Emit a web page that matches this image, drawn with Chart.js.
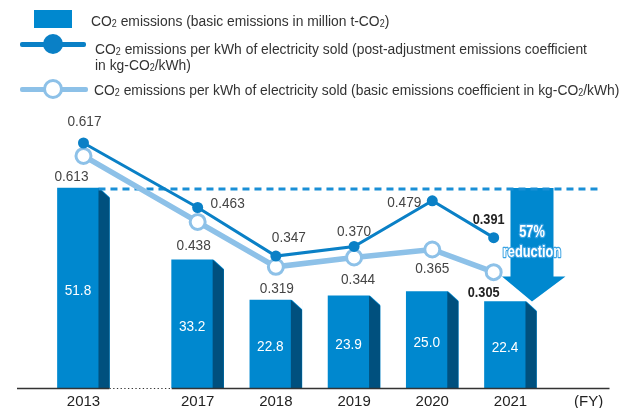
<!DOCTYPE html>
<html>
<head>
<meta charset="utf-8">
<script src="https://cdn.jsdelivr.net/npm/chart.js@4.4.0/dist/chart.umd.min.js"></script>
<style>
  html, body { margin: 0; padding: 0; background: #fff; }
  #wrap { position: relative; width: 620px; height: 408px; overflow: hidden;
          font-family: 'Liberation Sans', Arial, sans-serif; color: #333; }
  #c { position: absolute; left: 0; top: 0; }
  .lg { position: absolute; font-size: 15.5px; line-height: 16.6px; white-space: nowrap;
        transform: scaleX(0.895); transform-origin: 0 0; }
  .lg sub { font-size: 10px; vertical-align: -1px; line-height: 0; }
  .mk { position: absolute; box-sizing: border-box; }
</style>
</head>
<body>
<div id="wrap">
  <canvas id="c" width="620" height="408"></canvas>

  <div class="mk" style="left:34px;top:10px;width:38px;height:17.5px;background:#0088cf"></div>
  <div class="lg" style="left:91px;top:12.5px">CO<sub>2</sub> emissions (basic emissions in million t-CO<sub>2</sub>)</div>

  <div class="mk" style="left:20px;top:42px;width:66px;height:4.5px;border-radius:2px;background:#0a80c6"></div>
  <div class="mk" style="left:43.3px;top:34.3px;width:20px;height:20px;border-radius:50%;background:#0a80c6"></div>
  <div class="lg" style="left:95px;top:40.5px">CO<sub>2</sub> emissions per kWh of electricity sold (post-adjustment emissions coefficient<br>in kg-CO<sub>2</sub>/kWh)</div>

  <div class="mk" style="left:20px;top:87px;width:68px;height:4.5px;border-radius:2px;background:#8dc1e8"></div>
  <div class="mk" style="left:43.3px;top:79.3px;width:20px;height:20px;border-radius:50%;background:#fff;border:3px solid #8dc1e8"></div>
  <div class="lg" style="left:94px;top:82.2px">CO<sub>2</sub> emissions per kWh of electricity sold (basic emissions coefficient in kg-CO<sub>2</sub>/kWh)</div>
</div>

<script>
const years = ['2013', '2017', '2018', '2019', '2020', '2021'];
const axisUnit = '(FY)';
const emissions = [51.8, 33.2, 22.8, 23.9, 25.0, 22.4];        // million t-CO2
const coefAdjusted = [0.617, 0.463, 0.347, 0.370, 0.479, 0.391]; // kg-CO2/kWh
const coefBasic = [0.613, 0.438, 0.319, 0.344, 0.365, 0.305];    // kg-CO2/kWh
const reductionText = ['57%', 'reduction'];

// axis is broken between 2013 and 2017, so 2013 sits a bit closer
const BREAK = 1.46;
const xs = years.map((_, i) => (i === 0 ? 0 : BREAK + i - 1));
const tickVals = [...xs, xs[xs.length - 1] + 1];
const tickLabels = [...years, axisUnit];
// last points of the lines are nudged left to make room for the arrow
const lineX = i => (i === years.length - 1 ? xs[i] - 0.215 : xs[i]);

const FONT = "'Liberation Sans', Arial, sans-serif";
Chart.defaults.font.family = FONT;

const BLUE = '#0088cf';
const SIDE = '#00507e';
const FRONT_W = 41;
const BEVEL = 10;
const NARROW = 0.88; // source uses a condensed face

// label offsets [dx, dy] from their point
const adjOffsets = [[1, -21], [30, -4], [13, -18], [0, -15], [-28, 2], [-5, -18]];
const basicOffsets = [[-12, 21], [-4, 24], [1, 21.5], [4, 22.5], [0, 19], [-10, 20.5]];

function narrowText(ctx, text, x, y, sx, stroke) {
  ctx.save();
  ctx.translate(x, y);
  ctx.scale(sx, 1);
  if (stroke) ctx.strokeText(text, 0, 0);
  ctx.fillText(text, 0, 0);
  ctx.restore();
}

const decor = {
  id: 'decor',
  afterDatasetDraw(chart, args) {
    if (args.meta.type !== 'bar') return;
    const ctx = chart.ctx;
    const area = chart.chartArea;
    const xScale = chart.scales.x;
    const yBar = chart.scales.yBar;
    const bars = args.meta.data;

    ctx.save();
    // side faces of the bars
    bars.forEach(bar => {
      const { x, y, base, width } = bar.getProps(['x', 'y', 'base', 'width'], true);
      const fr = x - width / 2 + FRONT_W;
      const r = x + width / 2;
      ctx.fillStyle = '#fff';
      ctx.beginPath();
      ctx.moveTo(fr, y - 1); ctx.lineTo(r + 1, y - 1); ctx.lineTo(r + 1, y + BEVEL); ctx.closePath();
      ctx.fill();
      ctx.fillStyle = SIDE;
      ctx.beginPath();
      ctx.moveTo(fr, y); ctx.lineTo(r, y + BEVEL); ctx.lineTo(r, base); ctx.lineTo(fr, base); ctx.closePath();
      ctx.fill();
    });

    // arrow from 2013 level down to 2021 level
    const last = bars.length - 1;
    const top = yBar.getPixelForValue(emissions[0]);
    const tip = yBar.getPixelForValue(emissions[last]);
    const cx = xScale.getPixelForValue(xs[last]) + 21.5;
    const headTop = tip - 25;
    ctx.fillStyle = BLUE;
    ctx.beginPath();
    ctx.moveTo(cx - 21.5, top);
    ctx.lineTo(cx + 21.5, top);
    ctx.lineTo(cx + 21.5, headTop);
    ctx.lineTo(cx + 33.5, headTop);
    ctx.lineTo(cx, tip);
    ctx.lineTo(cx - 30, headTop);
    ctx.lineTo(cx - 21.5, headTop);
    ctx.closePath();
    ctx.fill();

    // dashed 2013 reference level
    const b0 = bars[0].getProps(['x', 'width'], true);
    ctx.strokeStyle = '#1a8fd6';
    ctx.lineWidth = 2.8;
    ctx.setLineDash([7, 5]);
    ctx.beginPath();
    ctx.moveTo(b0.x - b0.width / 2 + FRONT_W, top + 1);
    ctx.lineTo(600, top + 1);
    ctx.stroke();

    // baseline with dotted break
    const b1 = bars[1].getProps(['x', 'width'], true);
    const gapL = b0.x + b0.width / 2;
    const gapR = b1.x - b1.width / 2;
    const yb = area.bottom + 0.5;
    ctx.strokeStyle = '#333';
    ctx.lineWidth = 1.4;
    ctx.setLineDash([]);
    ctx.beginPath();
    ctx.moveTo(area.left, yb); ctx.lineTo(gapL, yb);
    ctx.moveTo(gapR, yb); ctx.lineTo(area.right, yb);
    ctx.stroke();
    ctx.lineWidth = 1.2;
    ctx.setLineDash([1.3, 2.4]);
    ctx.beginPath();
    ctx.moveTo(gapL, yb); ctx.lineTo(gapR, yb);
    ctx.stroke();
    ctx.restore();
  },
  afterDatasetsDraw(chart) {
    const ctx = chart.ctx;
    ctx.save();
    ctx.textAlign = 'center';
    ctx.textBaseline = 'middle';

    // values inside bars
    const barMeta = chart.getDatasetMeta(2);
    ctx.fillStyle = '#fff';
    ctx.font = '15.5px ' + FONT;
    barMeta.data.forEach((bar, i) => {
      const { x, y, base, width } = bar.getProps(['x', 'y', 'base', 'width'], true);
      narrowText(ctx, emissions[i].toFixed(1), x - width / 2 + FRONT_W / 2, (y + base) / 2 + 3, NARROW);
    });

    // line labels
    const last = years.length - 1;
    const drawLabels = (meta, values, offsets) => {
      meta.data.forEach((pt, i) => {
        const bold = i === last;
        ctx.font = (bold ? 'bold ' : '') + '15.5px ' + FONT;
        ctx.fillStyle = bold ? '#222' : '#444';
        narrowText(ctx, values[i].toFixed(3), pt.x + offsets[i][0], pt.y + offsets[i][1], bold ? 0.82 : NARROW);
      });
    };
    drawLabels(chart.getDatasetMeta(0), coefAdjusted, adjOffsets);
    drawLabels(chart.getDatasetMeta(1), coefBasic, basicOffsets);

    // arrow text
    const yBar = chart.scales.yBar;
    const top = yBar.getPixelForValue(emissions[0]);
    const tip = yBar.getPixelForValue(emissions[last]);
    const cx = chart.scales.x.getPixelForValue(xs[last]) + 21.5;
    const ty = (top + tip - 25) / 2;
    ctx.font = 'bold 16px ' + FONT;
    ctx.lineJoin = 'round';
    ctx.lineWidth = 2.5;
    ctx.strokeStyle = '#3aa3e3';
    ctx.fillStyle = '#fff';
    reductionText.forEach((t, k) => {
      narrowText(ctx, t, cx, ty + k * 20, 0.8, true);
    });
    ctx.restore();
  }
};

new Chart(document.getElementById('c'), {
  type: 'bar',
  data: {
    datasets: [
      {
        type: 'line',
        label: 'post-adjustment coefficient',
        data: coefAdjusted.map((v, i) => ({ x: lineX(i), y: v })),
        yAxisID: 'yDark',
        borderColor: '#0a80c6',
        borderWidth: 3,
        pointRadius: 5.5,
        pointBackgroundColor: '#0a80c6',
        pointBorderWidth: 0,
        order: 0
      },
      {
        type: 'line',
        label: 'basic coefficient',
        data: coefBasic.map((v, i) => ({ x: lineX(i), y: v })),
        yAxisID: 'yLight',
        borderColor: '#8dc1e8',
        borderWidth: 5.5,
        pointRadius: 7.5,
        pointBorderWidth: 3,
        pointBackgroundColor: '#fff',
        pointBorderColor: '#8dc1e8',
        order: 1
      },
      {
        type: 'bar',
        label: 'CO2 emissions',
        data: emissions.map((v, i) => ({ x: xs[i], y: v })),
        yAxisID: 'yBar',
        backgroundColor: BLUE,
        barThickness: 52,
        order: 2
      }
    ]
  },
  options: {
    responsive: false,
    animation: false,
    devicePixelRatio: 1,
    layout: { padding: { left: 17, right: 5, top: 110, bottom: 0 } },
    plugins: { legend: { display: false }, tooltip: { enabled: false } },
    scales: {
      x: {
        type: 'linear',
        offset: false,
        min: -0.85,
        max: 6.726,
        grid: { display: false, drawTicks: false },
        border: { display: false },
        afterBuildTicks: s => { s.ticks = tickVals.map(v => ({ value: v })); },
        afterFit: s => { s.height = 20; },
        ticks: {
          autoSkip: false,
          maxRotation: 0,
          padding: 5,
          color: '#222',
          font: { size: 15 },
          callback: (v, i) => tickLabels[i]
        }
      },
      yBar: { display: false, min: 0, max: 72.0 },
      yLight: { display: false, min: -0.0021, max: 0.7347 },
      yDark: { display: false, min: 0.032, max: 0.6958 }
    }
  },
  plugins: [decor]
});
</script>
</body>
</html>
